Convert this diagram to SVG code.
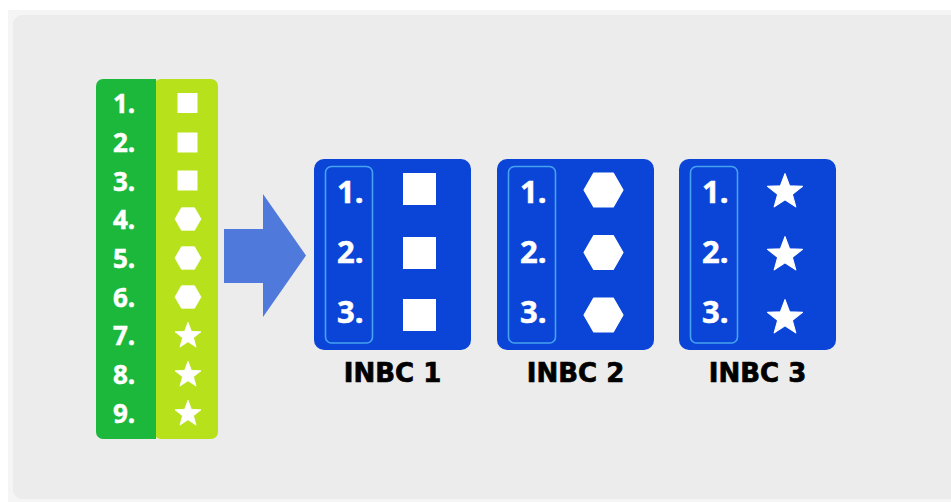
<svg xmlns="http://www.w3.org/2000/svg" xmlns:xlink="http://www.w3.org/1999/xlink" width="951" height="502" viewBox="0 0 951 502">
  <defs>
    <style>
      .num { font-family: "Open Sans", "Liberation Sans", sans-serif; font-weight: 700; fill: #ffffff; stroke: #ffffff; stroke-width: 0.5; }
      .lnum { font-size: 26px; }
      .bnum { font-size: 31px; }
      .label { font-family: "DejaVu Sans", "Liberation Sans", sans-serif; font-weight: 700; font-size: 26px; fill: #000000; stroke: #000000; stroke-width: 0.7; text-anchor: middle; }
      .box { fill: #0a45d8; }
      .inner { fill: none; stroke: #45a3f0; stroke-width: 1.6; }
      .shape { fill: #ffffff; }
    </style>
    <polygon id="star" points="0,-10 2.469,-3.398 9.511,-3.090 3.994,1.298 5.878,8.090 0,4.2 -5.878,8.090 -3.994,1.298 -9.511,-3.090 -2.469,-3.398" fill="#ffffff" stroke="#ffffff" stroke-width="0.6" stroke-linejoin="round"/>
    <polygon id="hex" points="10,0 5,8.66 -5,8.66 -10,0 -5,-8.66 5,-8.66" fill="#ffffff" stroke="#ffffff" stroke-width="0.6" stroke-linejoin="round"/>
  </defs>

  <rect x="0" y="0" width="951" height="502" fill="#ffffff"/>
  <rect x="8" y="10" width="943" height="492" fill="#f5f5f5"/>
  <rect x="13" y="15" width="950" height="484" rx="9" fill="#ececec"/>

  <g id="list">
    <rect x="154" y="79" width="64" height="360" rx="7" fill="#b6e11b"/>
    <rect x="96" y="79" width="60" height="360" rx="7" fill="#1bb83b"/>
    <rect x="150" y="79" width="6" height="360" fill="#1bb83b"/>
    <text class="num lnum" x="113" y="113">1.</text>
    <text class="num lnum" x="113" y="152">2.</text>
    <text class="num lnum" x="113" y="190.5">3.</text>
    <text class="num lnum" x="113" y="229">4.</text>
    <text class="num lnum" x="113" y="268">5.</text>
    <text class="num lnum" x="113" y="307">6.</text>
    <text class="num lnum" x="113" y="345">7.</text>
    <text class="num lnum" x="113" y="384">8.</text>
    <text class="num lnum" x="113" y="423">9.</text>
    <rect class="shape" x="177.5" y="93" width="20" height="20"/>
    <rect class="shape" x="177.5" y="132.5" width="20" height="20"/>
    <rect class="shape" x="177.5" y="170.5" width="20" height="20"/>
    <use xlink:href="#hex" href="#hex" transform="translate(188,219) scale(1.3)"/>
    <use xlink:href="#hex" href="#hex" transform="translate(188,258) scale(1.3)"/>
    <use xlink:href="#hex" href="#hex" transform="translate(188,297) scale(1.3)"/>
    <use xlink:href="#star" href="#star" transform="translate(188,336) scale(1.37)"/>
    <use xlink:href="#star" href="#star" transform="translate(188,375) scale(1.37)"/>
    <use xlink:href="#star" href="#star" transform="translate(188,414) scale(1.37)"/>
  </g>

  <g id="connectors">
    <polygon points="224,229 263,229 263,194 306,255.5 263,317 263,283 224,283" fill="#5079dc"/>
  </g>

  <g id="inbc1">
    <rect class="box" x="314" y="159" width="157" height="191" rx="10"/>
    <rect class="inner" x="325.5" y="166.5" width="47" height="176.5" rx="6"/>
    <text class="num bnum" x="337" y="203">1.</text>
    <text class="num bnum" x="337" y="263">2.</text>
    <text class="num bnum" x="337" y="323">3.</text>
    <rect class="shape" x="403" y="173" width="33" height="32"/>
    <rect class="shape" x="403" y="237" width="33" height="32"/>
    <rect class="shape" x="403" y="299" width="33" height="32"/>
    <text class="label" x="392.5" y="382">INBC 1</text>
  </g>

  <g id="inbc2">
    <rect class="box" x="497" y="159" width="157" height="191" rx="10"/>
    <rect class="inner" x="508.5" y="166.5" width="47" height="176.5" rx="6"/>
    <text class="num bnum" x="520" y="203">1.</text>
    <text class="num bnum" x="520" y="263">2.</text>
    <text class="num bnum" x="520" y="323">3.</text>
    <use xlink:href="#hex" href="#hex" transform="translate(603.5,190) scale(1.95)"/>
    <use xlink:href="#hex" href="#hex" transform="translate(603.5,252.5) scale(1.95)"/>
    <use xlink:href="#hex" href="#hex" transform="translate(603.5,315) scale(1.95)"/>
    <text class="label" x="575.5" y="382">INBC 2</text>
  </g>

  <g id="inbc3">
    <rect class="box" x="679" y="159" width="157" height="191" rx="10"/>
    <rect class="inner" x="690.5" y="166.5" width="47" height="176.5" rx="6"/>
    <text class="num bnum" x="702" y="203">1.</text>
    <text class="num bnum" x="702" y="263">2.</text>
    <text class="num bnum" x="702" y="323">3.</text>
    <use xlink:href="#star" href="#star" transform="translate(785,192) scale(1.84)"/>
    <use xlink:href="#star" href="#star" transform="translate(785,255) scale(1.84)"/>
    <use xlink:href="#star" href="#star" transform="translate(785,318) scale(1.84)"/>
    <text class="label" x="757.5" y="382">INBC 3</text>
  </g>
</svg>
